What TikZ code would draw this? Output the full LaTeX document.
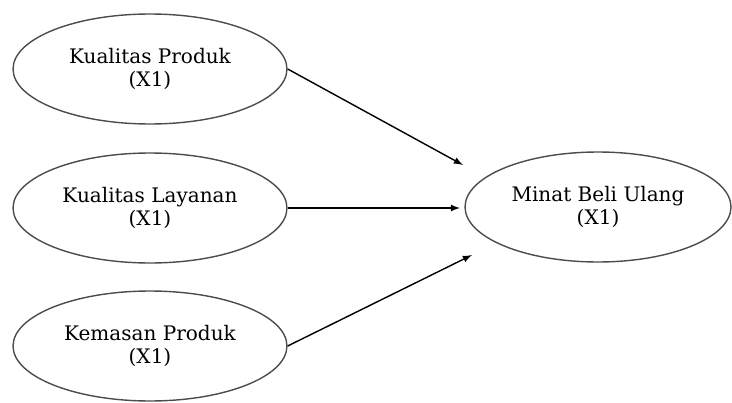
\documentclass[tikz,border=0pt]{standalone}
\usepackage{fontspec}
\setmainfont{DejaVu Serif}
\usetikzlibrary{arrows,shapes,positioning}

\begin{document}
\begin{tikzpicture}[x=0.02cm, y=-0.02cm, thick,
    var/.style={draw=black!70, ellipse, line width=0.8pt, minimum width=5.48cm, minimum height=2.2cm, inner sep=0pt, align=center, font=\fontsize{11.4}{13}\selectfont},
    link/.style={->, >=latex, line width=0.8pt}]
        \useasboundingbox (0,0) rectangle (732,402);
        % Variables on the left
        \node[var] (kp) at (150,69) {Kualitas Produk\\(X1)};
        \node[var] (kl) at (150,208) {Kualitas Layanan\\(X1)};
        \node[var] (km) at (150,346) {Kemasan Produk\\(X1)};
        
        % Dependent variable
        \node[var, minimum width=5.32cm] (mbu) at (598,207) {Minat Beli Ulang\\(X1)};
        
        % Arrow ends (short of the ellipse)
        \coordinate (e1) at (463,165);
        \coordinate (e2) at (460,208);
        \coordinate (e3) at (472,255);
        
        % Connect
        \draw[link] (kp.east) -- (e1);
        \draw[link] (kl.east) -- (e2);
        \draw[link] (km.east) -- (e3);
    \end{tikzpicture}
\end{document}
